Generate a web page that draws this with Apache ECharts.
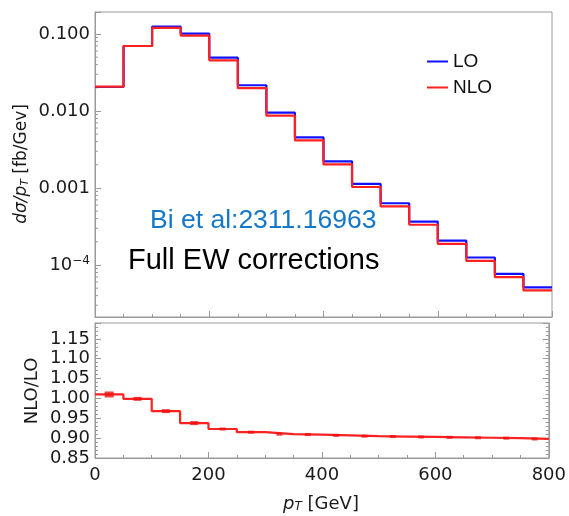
<!DOCTYPE html>
<html>
<head>
<meta charset="utf-8">
<script src="https://cdn.jsdelivr.net/npm/echarts@6/dist/echarts.min.js"></script>
<style>
html,body{margin:0;padding:0;background:#fff;}
#chart{width:569px;height:516px;}
</style>
</head>
<body>
<div id="chart"></div>
<script>
// ---- data ----
const binEdges = [0, 50, 100, 150, 200, 250, 300, 350, 400, 450, 500, 550, 600, 650, 700, 750, 800];
const binCenters = [25, 75, 125, 175, 225, 275, 325, 375, 425, 475, 525, 575, 625, 675, 725, 775];
const loValues = [0.0205, 0.0698, 0.1245, 0.1009, 0.0492, 0.0216, 0.0095, 0.00455, 0.00222, 0.00113,
                  0.000633, 0.000366, 0.000207, 0.000125, 0.0000764, 0.0000513];
const nloValues = [0.0207, 0.0698, 0.1197, 0.0955, 0.0455, 0.0198, 0.00869, 0.00415, 0.00202, 0.00103,
                   0.000576, 0.000333, 0.000188, 0.000113, 0.0000695, 0.0000467];
const ratioValues = [1.010, 0.999, 0.968, 0.938, 0.923, 0.915, 0.910, 0.909, 0.907, 0.905,
                     0.904, 0.903, 0.902, 0.901, 0.900, 0.898];
const topTickValues = [-4, -3, -2, -1];
const topTickLabels = ['10{sup|−4}', '0.001', '0.010', '0.100'];
const ratioTickLabels = ['0.85', '0.90', '0.95', '1.00', '1.05', '1.10', '1.15'];
const seriesNames = ['LO', 'NLO'];

// ---- helpers ----
function stepData(vals) {
  return binEdges.map((x, i) => [x, vals[Math.min(i, vals.length - 1)]]);
}
const yTopMin = 2.11e-5, yTopMax = 0.193;
const minorLogTicks = [];
for (let k = -5; k <= -1; k++) {
  for (let m = 2; m <= 9; m++) {
    const v = m * Math.pow(10, k);
    if (v > yTopMin && v < yTopMax) minorLogTicks.push(v);
  }
}

const frameColor = '#9a9a9a';
const labelFont = 'DejaVu Sans';
const labelSize = 18;
const chart = echarts.init(document.getElementById('chart'), null, {renderer: 'canvas'});

const option = {
  animation: false,
  backgroundColor: '#fff',
  grid: [
    {left: 95, right: 17, top: 12, height: 305, show: true, borderColor: frameColor, borderWidth: 1, backgroundColor: 'transparent'},
    {left: 95, right: 17, top: 323, height: 135, show: true, borderColor: frameColor, borderWidth: 1, backgroundColor: 'transparent'}
  ],
  legend: {
    data: seriesNames,
    orient: 'vertical',
    left: 427, top: 52,
    icon: 'rect', itemWidth: 21, itemHeight: 2, itemGap: 7,
    padding: 0,
    textStyle: {fontSize: 19, fontFamily: 'Liberation Sans', color: '#111'}
  },
  xAxis: [
    {type: 'value', gridIndex: 0, min: 0, max: 800, interval: 200,
     axisLine: {show: true, lineStyle: {color: frameColor}},
     axisTick: {show: true, inside: true, length: 6, lineStyle: {color: frameColor}},
     minorTick: {show: true, splitNumber: 4, length: 3, lineStyle: {color: frameColor}},
     axisLabel: {show: false}, splitLine: {show: false}},
    {type: 'value', gridIndex: 1, min: 0, max: 800, interval: 200,
     axisLine: {show: true, lineStyle: {color: frameColor}},
     axisTick: {show: true, inside: true, length: 6, lineStyle: {color: frameColor}},
     minorTick: {show: true, splitNumber: 4, length: 3, lineStyle: {color: frameColor}},
     axisLabel: {show: true, fontSize: labelSize, fontFamily: labelFont, color: '#1a1a1a', margin: 8},
     splitLine: {show: false}}
  ],
  yAxis: [
    {type: 'log', gridIndex: 0, logBase: 10, min: yTopMin, max: yTopMax,
     axisLine: {show: true, lineStyle: {color: frameColor}},
     axisTick: {show: true, inside: true, length: 6, lineStyle: {color: frameColor}},
     splitLine: {show: false},
     axisLabel: {
       fontSize: labelSize, fontFamily: labelFont, color: '#1a1a1a', margin: 5,
       formatter: function (v) {
         const l = Math.log10(v);
         const r = Math.round(l);
         if (Math.abs(l - r) > 1e-6) return '';
         const idx = topTickValues.indexOf(r);
         return idx >= 0 ? topTickLabels[idx] : '';
       },
       rich: {sup: {fontSize: 12, fontFamily: labelFont, color: '#1a1a1a', verticalAlign: 'top', padding: [0, 0, 9, 0]}}
     }},
    {type: 'value', gridIndex: 1, min: 0.85, max: 1.19, interval: 0.05,
     axisLine: {show: true, lineStyle: {color: frameColor}},
     axisTick: {show: true, inside: true, length: 6, lineStyle: {color: frameColor}},
     minorTick: {show: true, splitNumber: 5, length: 3, lineStyle: {color: frameColor}},
     splitLine: {show: false},
     axisLabel: {
       fontSize: labelSize, fontFamily: labelFont, color: '#1a1a1a', margin: 5,
       formatter: function (v) {
         const idx = Math.round((v - 0.85) / 0.05);
         if (Math.abs((v - 0.85) / 0.05 - idx) > 1e-6) return '';
         return ratioTickLabels[idx] || '';
       }
     }},
    {type: 'value', gridIndex: 1, position: 'right', min: 0.85, max: 1.19, interval: 0.05,
     axisLine: {show: true, lineStyle: {color: frameColor}},
     axisTick: {show: true, inside: true, length: 6, lineStyle: {color: frameColor}},
     minorTick: {show: true, splitNumber: 5, length: 3, lineStyle: {color: frameColor}},
     splitLine: {show: false}, axisLabel: {show: false}}
  ],
  series: [
    {name: 'LO', type: 'line', xAxisIndex: 0, yAxisIndex: 0, step: 'end', data: stepData(loValues),
     symbol: 'none', color: '#1010ff', lineStyle: {width: 2.2, color: '#1010ff'}, z: 3},
    {name: 'NLO', type: 'line', xAxisIndex: 0, yAxisIndex: 0, step: 'end', data: stepData(nloValues),
     symbol: 'none', color: '#ff2020', lineStyle: {width: 2.2, color: '#ff2020'}, z: 4},
    {name: 'ratio', type: 'line', xAxisIndex: 1, yAxisIndex: 1, step: 'end', data: stepData(ratioValues),
     symbol: 'none', color: '#ff2020', lineStyle: {width: 2.2, color: '#ff2020'}, z: 4},
    {name: 'ratioErr', type: 'scatter', xAxisIndex: 1, yAxisIndex: 1,
     data: binCenters.map((x, i) => [x, ratioValues[i]]),
     symbol: 'rect',
     symbolSize: function (val, params) { return params.dataIndex === 0 ? [9, 6] : (params.dataIndex < 4 ? [8, 4] : [6, 3]); },
     itemStyle: {color: '#ee1010'}, z: 5},
    {name: 'minorLog', type: 'custom', xAxisIndex: 0, yAxisIndex: 0,
     data: minorLogTicks.map(v => [0, v]),
     renderItem: function (params, api) {
       const p = api.coord([0, api.value(1)]);
       return {type: 'line', shape: {x1: p[0], y1: p[1], x2: p[0] + 3, y2: p[1]},
               style: {stroke: frameColor, lineWidth: 1}};
     }, z: 2, silent: true}
  ],
  graphic: [
    {type: 'text', x: 22, y: 164, rotation: Math.PI / 2,
     style: {text: '{i|dσ/p}{sub|T} [fb/Gev]', align: 'center', verticalAlign: 'middle',
             fontSize: 17, fontFamily: labelFont, fill: '#1a1a1a',
             rich: {i: {fontStyle: 'italic', fontSize: 17, fontFamily: labelFont},
                    sub: {fontStyle: 'italic', fontSize: 11, fontFamily: labelFont, verticalAlign: 'bottom', padding: [6, 0, 0, 0]}}}},
    {type: 'text', x: 32, y: 391, rotation: Math.PI / 2,
     style: {text: 'NLO/LO', align: 'center', verticalAlign: 'middle',
             fontSize: 18, fontFamily: labelFont, fill: '#1a1a1a'}},
    {type: 'text', x: 321, y: 504,
     style: {text: '{i|p}{sub|T} [GeV]', align: 'center', verticalAlign: 'middle',
             fontSize: 18, fontFamily: labelFont, fill: '#1a1a1a',
             rich: {i: {fontStyle: 'italic', fontSize: 18, fontFamily: labelFont},
                    sub: {fontStyle: 'italic', fontSize: 12, fontFamily: labelFont, verticalAlign: 'bottom', padding: [6, 0, 0, 0]}}}},
    {type: 'text', x: 150, y: 221,
     style: {text: 'Bi et al:2311.16963', align: 'left', verticalAlign: 'middle',
             fontSize: 26.5, fontFamily: 'Liberation Sans', fill: '#1478c8'}},
    {type: 'text', x: 128, y: 261,
     style: {text: 'Full EW corrections', align: 'left', verticalAlign: 'middle',
             fontSize: 29, fontFamily: 'Liberation Sans', fill: '#000'}}
  ]
};
chart.setOption(option);
</script>
</body>
</html>
